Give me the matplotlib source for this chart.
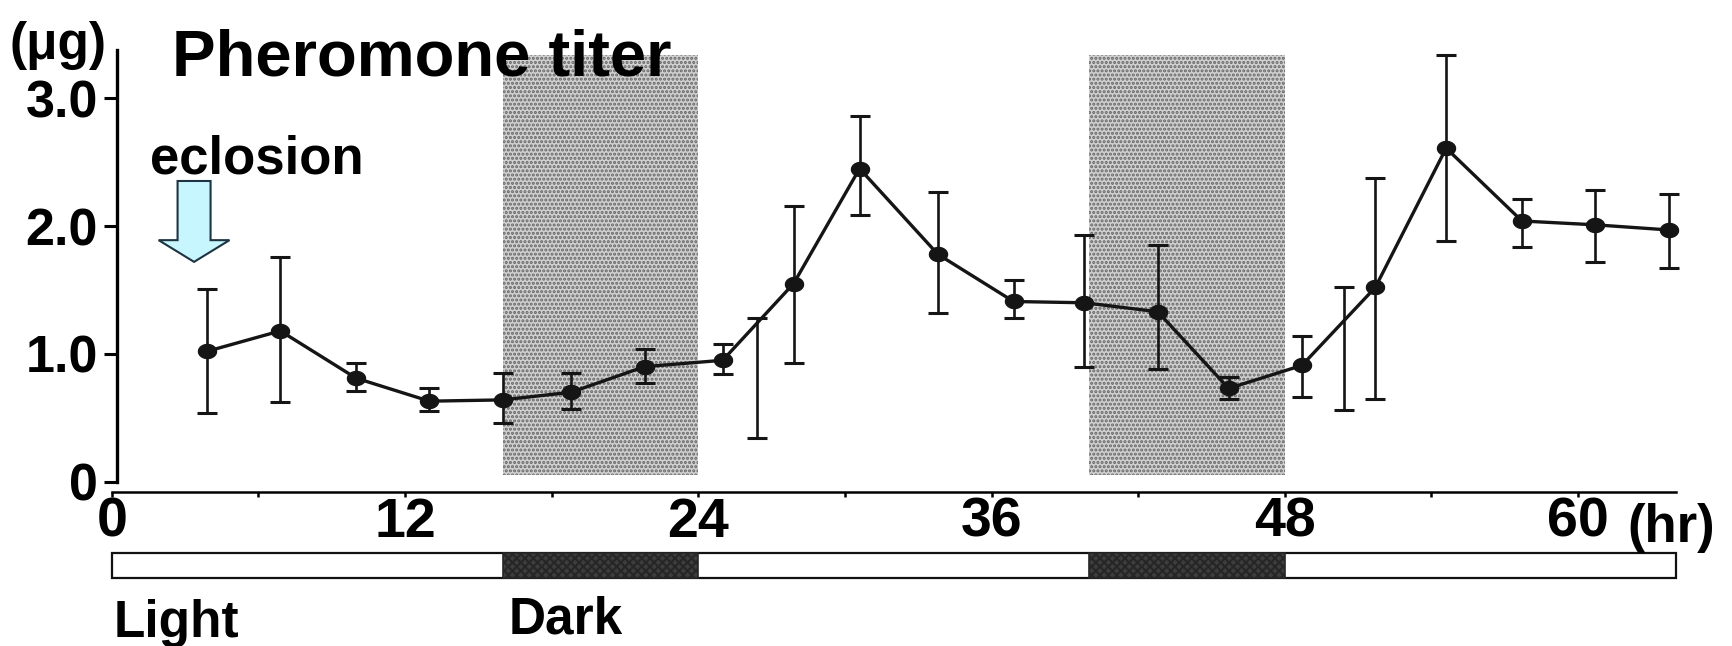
import matplotlib
matplotlib.use('Agg')
import matplotlib.pyplot as plt
from matplotlib.patches import Rectangle, FancyArrow
from matplotlib.path import Path
import numpy as np

# ---- data ----
hours = [3.9, 6.9, 10.0, 13.0, 16.0, 18.8, 21.8, 25.0, 27.9, 30.6, 33.8,
         36.9, 39.8, 42.8, 45.7, 48.7, 51.7, 54.6, 57.7, 60.7, 63.7]
titer_mean = [1.02, 1.18, 0.81, 0.63, 0.64, 0.70, 0.90, 0.95, 1.55, 2.45, 1.78,
              1.41, 1.40, 1.33, 0.73, 0.91, 1.52, 2.61, 2.04, 2.01, 1.97]
titer_low = [0.54, 0.62, 0.71, 0.55, 0.46, 0.57, 0.77, 0.84, 0.93, 2.09, 1.32,
             1.28, 0.90, 0.88, 0.65, 0.66, 0.65, 1.88, 1.84, 1.72, 1.67]
titer_high = [1.51, 1.76, 0.93, 0.73, 0.85, 0.85, 1.04, 1.08, 2.16, 2.86, 2.27,
              1.58, 1.93, 1.85, 0.82, 1.14, 2.38, 3.34, 2.21, 2.28, 2.25]
extra_hours = [26.4, 50.4]
extra_low = [0.34, 0.56]
extra_high = [1.28, 1.52]
dark_periods = [(16, 24), (40, 48)]
x_end = 64
x_ticks = [0, 12, 24, 36, 48, 60]
x_minor = [6, 18, 30, 42, 54]
y_ticks = [0, 1.0, 2.0, 3.0]
y_ticklabels = ['0', '1.0', '2.0', '3.0']

plt.rcParams['font.family'] = ['Liberation Sans', 'DejaVu Sans']
plt.rcParams['font.weight'] = 'bold'
plt.rcParams['hatch.linewidth'] = 1.5

W, H = 1733, 646
fig = plt.figure(figsize=(W / 100, H / 100), dpi=100)
ax = fig.add_axes([111.7 / W, 154.1 / H, (1675.9 - 111.7) / W, (598.8 - 154.1) / H])
ax.set_xlim(0, x_end)
ax.set_ylim(-0.08, 3.4)

for s in ['top', 'right']:
    ax.spines[s].set_visible(False)
ax.spines['left'].set_position(('data', 0.2))
ax.spines['left'].set_bounds(0, 3.38)
ax.spines['left'].set_linewidth(2.4)
ax.spines['bottom'].set_bounds(0, x_end)
ax.spines['bottom'].set_linewidth(1.8)

ax.set_xticks(x_ticks)
ax.set_xticklabels([str(t) for t in x_ticks])
ax.set_xticks(x_minor, minor=True)
ax.set_yticks(y_ticks)
ax.set_yticklabels(y_ticklabels)
ax.tick_params(axis='x', which='both', direction='out', length=3.6, width=1.8,
               pad=0, labelsize=40)
ax.tick_params(axis='y', direction='out', length=9.4, width=2.2, pad=4,
               labelsize=37.5)

# shaded dark periods
for a, b in dark_periods:
    ax.add_patch(Rectangle((a, 0.05), b - a, 3.29, facecolor='#d0d0d0',
                           hatch='....', edgecolor='#666666', linewidth=0,
                           zorder=0))

# data
mean = np.array(titer_mean)
lo = mean - np.array(titer_low)
hi = np.array(titer_high) - mean
theta = np.linspace(0, 2 * np.pi, 41)
ell = Path(np.column_stack([np.cos(theta), 0.78 * np.sin(theta)]))
cont = ax.errorbar(hours, mean, yerr=[lo, hi], fmt='-', marker=ell,
                   color='#151515', ms=13, lw=2.4, elinewidth=1.9, capsize=7,
                   capthick=2.2, zorder=3)
for art in cont.get_children():
    art.set_clip_on(False)
emid = (np.array(extra_low) + np.array(extra_high)) / 2
cont2 = ax.errorbar(extra_hours, emid, yerr=[emid - np.array(extra_low),
                                             np.array(extra_high) - emid],
                    fmt='none', ecolor='#151515', elinewidth=1.9, capsize=7,
                    capthick=2.2, zorder=3)

# light/dark bar below axis
ax.add_patch(Rectangle((0, -0.754), x_end, 0.196, facecolor='white',
                       edgecolor='#111111', linewidth=1.6, clip_on=False))
for a, b in dark_periods:
    ax.add_patch(Rectangle((a, -0.754), b - a, 0.196, facecolor='#3d3d3d',
                           hatch='xxxx', edgecolor='#262626', linewidth=1.2,
                           clip_on=False))

# eclosion arrow
ax.add_patch(FancyArrow(3.37, 2.353, 0, -0.633, width=1.35, head_width=2.9,
                        head_length=0.17, length_includes_head=True,
                        facecolor='#c8f6ff', edgecolor='#1e3440', linewidth=1.5,
                        zorder=4))

# texts
fig.text(10 / W, 1 - 59 / H, '(μg)', fontsize=37, fontweight='bold', va='baseline')
fig.text(172 / W, 1 - 75 / H, 'Pheromone titer', fontsize=47, fontweight='bold',
         va='baseline')
fig.text(150 / W, 1 - 173.3 / H, 'eclosion', fontsize=38, fontweight='bold',
         va='baseline')
fig.text(1627 / W, 1 - 542 / H, '(hr)', fontsize=38, fontweight='bold',
         va='baseline')
fig.text(114 / W, 1 - 636.7 / H, 'Light', fontsize=37, fontweight='bold',
         va='baseline')
fig.text(509 / W, 1 - 634 / H, 'Dark', fontsize=37, fontweight='bold',
         va='baseline')

fig.savefig('out.png', dpi=100, facecolor='white')
